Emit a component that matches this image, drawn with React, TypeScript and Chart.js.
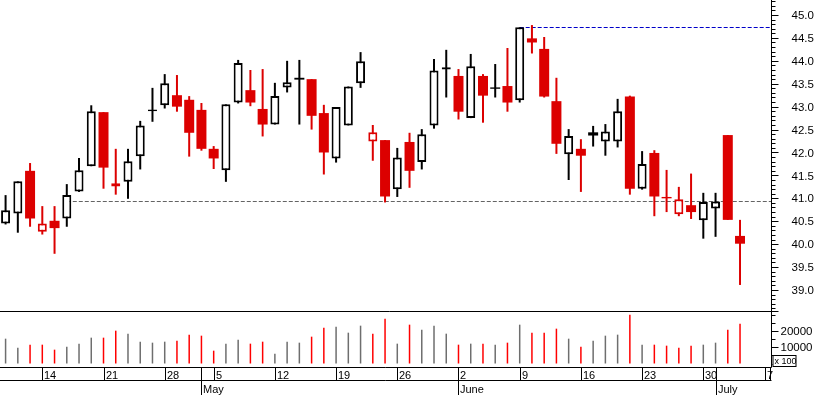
import React, { useEffect, useRef } from "react";
import { Chart, registerables } from "chart.js";

Chart.register(...registerables);

// ---- data (one entry per trading day, index 0 = first candle) ----
const opens = [
  40.45, 40.67, 41.6, 40.27, 40.51, 40.56, 41.15, 41.7, 42.88, 41.26,
  41.36, 41.92, 42.9, 43.03, 43.25, 43.15, 42.93, 42.08, 41.61, 43.09,
  43.36, 42.95, 42.61, 43.42, 43.63, 43.6, 42.86, 41.87, 42.59, 43.51,
  42.24, 42.27, 41.2, 42.23, 41.79, 42.59, 43.81, 43.67, 42.75, 43.67,
  43.42, 43.45, 43.14, 44.49, 44.26, 43.12, 41.96, 42.08, 42.44, 42.24,
  42.24, 43.22, 41.21, 41.99, 41.03, 40.65, 40.85, 40.52, 40.78, 42.38,
  40.18,
];
const highs = [
  41.07, 41.37, 41.77, 40.83, 40.83, 41.31, 41.88, 43.03, 42.88, 42.08,
  42.08, 42.69, 43.41, 43.71, 43.69, 43.23, 43.08, 42.14, 43.05, 44.02,
  43.8, 43.82, 43.52, 44.0, 44.02, 43.6, 43.04, 42.99, 43.44, 44.19,
  42.6, 42.27, 42.1, 42.43, 42.51, 44.04, 44.24, 43.82, 44.15, 43.71,
  43.93, 44.28, 44.73, 44.78, 44.52, 43.63, 42.51, 42.29, 42.58, 42.62,
  43.17, 43.24, 42.03, 42.05, 41.62, 41.25, 41.54, 41.12, 41.12, 42.38,
  40.53,
];
const lows = [
  40.43, 40.25, 40.38, 40.21, 39.79, 40.38, 41.14, 41.7, 41.21, 41.08,
  40.99, 41.63, 42.67, 42.96, 42.89, 41.91, 42.04, 41.64, 41.36, 43.07,
  43.01, 42.35, 42.61, 43.31, 42.61, 42.5, 41.52, 41.78, 42.59, 43.41,
  41.82, 40.91, 41.03, 41.23, 41.63, 42.52, 43.2, 42.72, 42.75, 42.65,
  43.2, 42.89, 43.09, 44.16, 43.2, 41.97, 41.4, 41.14, 42.13, 41.93,
  42.11, 41.08, 41.19, 40.61, 40.7, 40.61, 40.55, 40.12, 40.16, 40.53,
  39.11,
];
const closes = [
  40.74, 41.37, 40.56, 40.45, 40.35, 41.07, 41.61, 42.9, 41.67, 41.33,
  41.81, 42.59, 42.94, 43.51, 43.0, 42.43, 42.08, 41.87, 43.05, 43.95,
  43.09, 42.61, 43.23, 43.53, 43.59, 42.8, 42.0, 42.99, 43.44, 43.99,
  42.44, 41.04, 41.89, 41.6, 42.4, 43.79, 43.86, 42.89, 43.88, 43.24,
  43.39, 43.09, 44.73, 44.4, 43.22, 42.19, 42.36, 41.93, 42.37, 42.46,
  42.9, 41.21, 41.75, 41.04, 41.0, 40.98, 40.7, 40.92, 40.93, 40.53,
  40.01,
];
const volumes = [
  15230, 9710, 11550, 11550, 8490, 10330, 12170, 15850, 15850, 20140,
  18300, 13390, 12780, 13390, 14010, 17690, 17070, 7870, 12170, 14620,
  12170, 13390, 6030, 13390, 12780, 16460, 21980, 22600, 18910, 23210,
  18300, 27500, 12170, 23820, 20750, 23210, 18300, 11550, 12170, 12170,
  11550, 12780, 23820, 18910, 18910, 21370, 15230, 10330, 14010, 17070,
  17690, 29960, 11550, 11550, 10940, 9710, 10940, 11550, 12780, 20750,
  24440,
];

const dayTickIndex = [3, 8, 13, 17, 22, 27, 32, 37, 42, 47, 52, 57, 62];
const dayTickLabels = ["14", "21", "28", "5", "12", "19", "26", "2", "9", "16", "23", "30", "7"];
const monthTickIndex = [16, 37, 58];
const monthTickLabels = ["May", "June", "July"];
const priceTickLabels = ["39.0", "39.5", "40.0", "40.5", "41.0", "41.5", "42.0", "42.5", "43.0", "43.5", "44.0", "44.5", "45.0"];
const volumeTickLabels = ["10000", "20000"];
const volumeUnitLabel = "x 100";

const supportLevel = 40.95;
const supportFrom = 5;
const resistanceLevel = 44.74;
const resistanceFrom = 42;

// ---- styles ----
const RED = "#dc0000";
const VOL_RED = "#ff0000";
const VOL_GRAY = "#6e6e6e";
const FONT = "Liberation Sans, Arial, sans-serif";

const isRed = (i: number) => i > 0 && closes[i] < closes[i - 1];
const isHollow = (i: number) => closes[i] >= opens[i];

const idx = opens.map((_, i) => i);
const hollowIdx = idx.filter((i) => isHollow(i));
const filledIdx = idx.filter((i) => !isHollow(i));

const decorPlugin = {
  id: "decor",
  beforeDatasetsDraw(chart: any) {
    const { ctx, chartArea } = chart;
    const x = chart.scales.x;
    const y = chart.scales.y;
    ctx.save();
    ctx.lineWidth = 1;
    ctx.setLineDash([4, 2]);
    ctx.strokeStyle = "#646464";
    let py = Math.round(y.getPixelForValue(supportLevel)) + 0.5;
    ctx.beginPath();
    ctx.moveTo(x.getPixelForValue(supportFrom), py);
    ctx.lineTo(chartArea.right, py);
    ctx.stroke();
    ctx.strokeStyle = "#0000c8";
    py = Math.round(y.getPixelForValue(resistanceLevel)) + 0.5;
    ctx.beginPath();
    ctx.moveTo(x.getPixelForValue(resistanceFrom), py);
    ctx.lineTo(chartArea.right, py);
    ctx.stroke();
    ctx.restore();
  },
  afterDraw(chart: any) {
    const { ctx, chartArea } = chart;
    const x = chart.scales.x;
    const y = chart.scales.y;
    const yv = chart.scales.yv;
    const right = Math.round(chartArea.right) + 0.5;
    const bottom = Math.round(chartArea.bottom) + 0.5;
    const sep = 311.5;
    ctx.save();
    ctx.lineWidth = 1;
    ctx.strokeStyle = "#000";
    ctx.fillStyle = "#000";
    ctx.setLineDash([]);

    const line = (x1: number, y1: number, x2: number, y2: number) => {
      ctx.beginPath();
      ctx.moveTo(x1, y1);
      ctx.lineTo(x2, y2);
      ctx.stroke();
    };

    // right axis line
    line(right, 0, right, bottom);
    // panel separator
    line(0, sep, right + 7, sep);
    // bottom of volume panel / date rows
    line(0, bottom, right, bottom);
    const row2 = bottom + 13;
    line(0, row2, right, row2);
    line(right - 1, bottom, right - 1, row2);

    // price ticks
    const pMin = y.min;
    for (let k = Math.ceil(pMin * 10); k <= Math.floor(y.max * 10); k++) {
      const v = k / 10;
      const py = Math.round(y.getPixelForValue(v)) + 0.5;
      if (py > sep - 1) continue;
      const major = k % 5 === 0;
      line(right, py, right + (major ? 7 : 4), py);
    }
    ctx.font = `11.5px ${FONT}`;
    ctx.textAlign = "left";
    ctx.textBaseline = "middle";
    priceTickLabels.forEach((lab) => {
      const py = y.getPixelForValue(parseFloat(lab));
      ctx.fillText(lab, right + 20, py + 1);
    });

    // volume ticks
    for (let v = 0; v <= 30000; v += 5000) {
      const py = Math.round(yv.getPixelForValue(v)) + 0.5;
      const major = v % 10000 === 0 && v > 0 && v < 30000;
      line(right, py, right + (major ? 7 : 4), py);
    }
    volumeTickLabels.forEach((lab) => {
      const py = yv.getPixelForValue(parseFloat(lab));
      ctx.fillText(lab, right + 9, py + 1);
    });
    // unit box
    ctx.fillStyle = "#fff";
    ctx.fillRect(right + 1, 356, 23, 11);
    ctx.fillStyle = "#000";
    ctx.strokeRect(right + 1.5, 355.5, 23, 11);
    ctx.font = `9px ${FONT}`;
    ctx.fillText(volumeUnitLabel, right + 3, 361.5);

    // day ticks
    ctx.font = `11px ${FONT}`;
    ctx.textBaseline = "alphabetic";
    dayTickIndex.forEach((di, n) => {
      const px = Math.round(x.getPixelForValue(di)) + 0.5;
      line(px, bottom, px, row2);
      ctx.fillText(dayTickLabels[n], px + 1.5, bottom + 11.5);
    });
    monthTickIndex.forEach((mi, n) => {
      const px = Math.round(x.getPixelForValue(mi)) + 0.5;
      line(px, bottom, px, 395);
      ctx.fillText(monthTickLabels[n], px + 1.5, row2 + 12);
    });
    ctx.restore();
  },
};

export default function App() {
  const ref = useRef<HTMLCanvasElement | null>(null);
  useEffect(() => {
    if (!ref.current) return;
    const chart = new Chart(ref.current, {
      type: "bar",
      data: {
        datasets: [
          {
            label: "hollow bodies",
            data: hollowIdx.map((i) => ({ x: i, y: [opens[i], closes[i]] })),
            backgroundColor: "#ffffff",
            borderColor: hollowIdx.map((i) => (isRed(i) ? RED : "#000000")),
            borderWidth: 2,
            barThickness: 9,
            order: 1,
            yAxisID: "y",
          } as any,
          {
            label: "filled bodies",
            data: filledIdx.map((i) => ({ x: i, y: [opens[i], closes[i]] })),
            backgroundColor: filledIdx.map((i) => (isRed(i) ? RED : "#000000")),
            borderColor: filledIdx.map((i) => (isRed(i) ? RED : "#000000")),
            borderWidth: 0,
            barThickness: 10,
            order: 1,
            yAxisID: "y",
          } as any,
          {
            label: "wicks",
            data: idx.map((i) => ({ x: i, y: [lows[i], highs[i]] })),
            backgroundColor: idx.map((i) => (isRed(i) ? RED : "#000000")),
            borderWidth: 0,
            barThickness: 2,
            order: 2,
            yAxisID: "y",
          } as any,
          {
            label: "volume",
            data: idx.map((i) => ({ x: i, y: [0, volumes[i]] })),
            backgroundColor: idx.map((i) => (isRed(i) ? VOL_RED : VOL_GRAY)),
            borderWidth: 0,
            barThickness: 1.5,
            order: 3,
            yAxisID: "yv",
          } as any,
        ],
      },
      options: {
        responsive: false,
        maintainAspectRatio: false,
        animation: false,
        devicePixelRatio: 1,
        layout: { padding: { left: 0, right: 46, top: 0, bottom: 28 } },
        datasets: { bar: { grouped: false, borderSkipped: false, inflateAmount: 0 } } as any,
        plugins: { legend: { display: false }, tooltip: { enabled: false } },
        scales: {
          x: { type: "linear", display: false, offset: false, min: -0.456, max: 62.53 },
          y: { type: "linear", display: false, min: 37.32, max: 45.327 },
          yv: { type: "linear", display: false, min: -2147, max: 223006 },
        },
      },
      plugins: [decorPlugin],
    });
    return () => chart.destroy();
  }, []);
  return (
    <div style={{ position: "absolute", left: 0, top: 0, width: 817, height: 395, background: "#fff" }}>
      <canvas ref={ref} width={817} height={395} style={{ display: "block" }} />
    </div>
  );
}
